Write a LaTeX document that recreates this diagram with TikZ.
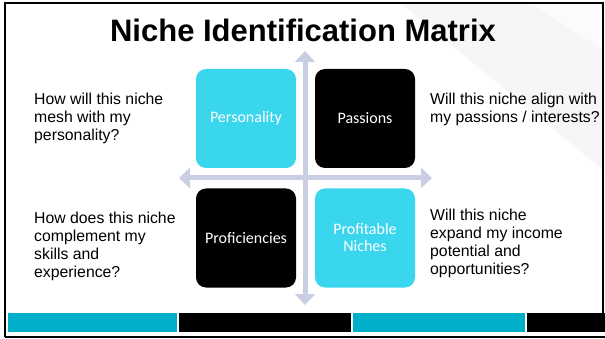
\documentclass[tikz,border=0pt]{standalone}
\usepackage{fontspec}
\setmainfont{Liberation Sans}
\newfontfamily\boxfont{Carlito}
\usepackage{tikz}
\usetikzlibrary{arrows.meta}

\definecolor{quadcyan}{RGB}{58,214,238}
\definecolor{barcyan}{RGB}{0,176,202}
\definecolor{axisgray}{RGB}{202,206,226}
\definecolor{shadegray}{RGB}{246,246,247}

\tikzset{
  quad/.style={rounded corners=10pt, minimum width=100pt, minimum height=99pt,
    inner sep=0pt, text=white, align=center, font=\boxfont\fontsize{16}{17}\selectfont},
  question/.style={anchor=north west, inner sep=0pt, align=left,
    font=\fontsize{15.8}{18}\selectfont},
  axis/.style={draw=axisgray, line width=5pt,
    -{Triangle[width=20pt,length=11pt]}},
  bar/.style={minimum height=19pt, inner sep=0pt, anchor=north west}
}

\begin{document}
\begin{tikzpicture}[x=1pt,y=-1pt]
\useasboundingbox (0,0) rectangle (605,339);
% faint backdrop
\fill[shadegray] (400,3) -- (603,3) -- (603,170) -- cycle;
\fill[white,opacity=0.6] (530,3) -- (603,3) -- (603,50) -- cycle;

% title
\node[font=\bfseries\fontsize{31}{36}\selectfont, anchor=base] (title) at (303,42) {Niche Identification Matrix};

% axes
\coordinate (centre) at (305,178);
\draw[axis] (centre) -- (305,51);
\draw[axis] (centre) -- (305,305);
\draw[axis] (centre) -- (179,178);
\draw[axis] (centre) -- (432,178);

% quadrants
\node[quad, fill=quadcyan] (personality) at (246,118.5) {Personality};
\node[quad, fill=black] (passions) at (365,118.5) {Passions};
\node[quad, fill=black] (proficiencies) at (246,238) {Proficiencies};
\node[quad, fill=quadcyan] (profitable) at (365,238) {Profitable\\Niches};

% questions
\node[question] (qpers) at (34,93) {How will this niche\\mesh with my\\personality?};
\node[question] (qprof) at (34,212) {How does this niche\\complement my\\skills and\\experience?};
\node[question] (qpass) at (430,93) {Will this niche align with\\my passions / interests?};
\node[question] (qinc) at (430,209) {Will this niche\\expand my income\\potential and\\opportunities?};

% footer bars
\node[bar, fill=barcyan, minimum width=169pt] (bar1) at (8,313) {};
\node[bar, fill=black, minimum width=172pt] (bar2) at (179,313) {};
\node[bar, fill=barcyan, minimum width=172pt] (bar3) at (353,313) {};
\node[bar, fill=black, minimum width=78pt] (bar4) at (527,313) {};

% frame
\draw[line width=2pt] (5,337) -- (5,3) -- (603,3) -- (603,313);
\draw[line width=2pt] (5,337) -- (605,337);
\end{tikzpicture}
\end{document}
